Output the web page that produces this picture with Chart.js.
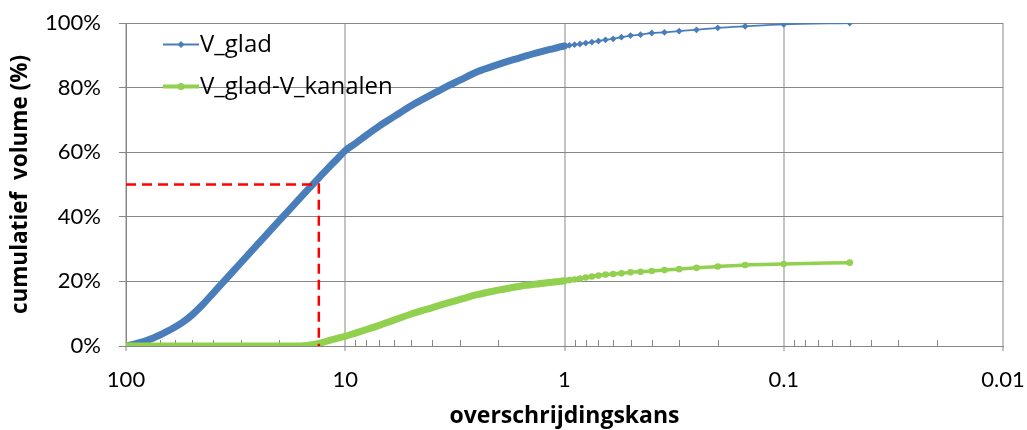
<!DOCTYPE html>
<html>
<head>
<meta charset="utf-8">
<script src="https://cdn.jsdelivr.net/npm/chart.js@4"></script>
<style>
  html, body { margin: 0; padding: 0; background: #ffffff; }
  #wrap { width: 1027px; height: 430px; position: relative; }
</style>
</head>
<body>
<div id="wrap"><canvas id="c" width="1027" height="430"></canvas></div>
<script>
// ---- data ----
const overschrijdingskans = [100, 95, 90, 85, 80, 75, 70, 65, 60, 55, 50, 45, 40, 35, 30, 25, 20, 17,
  15, 13, 12, 11, 10, 9, 8, 7, 6, 5, 4, 3.5, 3, 2.5, 2, 1.8, 1.6, 1.5, 1.4, 1.3,
  1.25, 1.2, 1.15, 1.1, 1.05, 1,
  0.95, 0.9, 0.85, 0.8, 0.75, 0.7, 0.65, 0.6, 0.55, 0.5, 0.45, 0.4, 0.35, 0.3, 0.25, 0.2, 0.15, 0.1, 0.05];
const vGlad = [0, 0.3, 0.7, 1.2, 1.8, 2.5, 3.4, 4.5, 5.8, 7.4, 9.6, 12.6, 16.4, 20.7, 25.7, 31.6, 38.8, 44.0,
  48.0, 52.5, 55.0, 57.6, 60.5, 62.7, 65.3, 68.1, 71.0, 74.4, 78.0, 80.1, 82.3, 84.9, 87.2, 88.2, 89.2, 89.8, 90.4, 91.0,
  91.3, 91.6, 91.9, 92.2, 92.6, 92.9,
  93.1, 93.3, 93.5, 93.8, 94.1, 94.4, 94.8, 95.1, 95.6, 96.1, 96.4, 96.9, 97.1, 97.5, 97.9, 98.5, 99.0, 99.6, 100];
const vGladMinKanalen = [0, 0, 0, 0, 0, 0, 0, 0, 0, 0, 0, 0, 0, 0, 0, 0, 0, 0,
  0.2, 0.9, 1.6, 2.3, 3.0, 4.0, 5.1, 6.4, 8.0, 9.9, 11.9, 13.1, 14.4, 15.9, 17.3, 17.9, 18.5, 18.8, 19.0, 19.3,
  19.45, 19.6, 19.7, 19.85, 20.0, 20.2,
  20.4, 20.6, 20.9, 21.2, 21.5, 21.8, 22.1, 22.3, 22.5, 22.8, 23.0, 23.2, 23.5, 23.8, 24.2, 24.6, 25.1, 25.4, 25.8];
const seriesNames = ['V_glad', 'V_glad-V_kanalen'];
const refKans = 13.2;     // red dashed reference
const refVolume = 50;
const xTickValues = [100, 10, 1, 0.1, 0.01];
const xTickLabels = ['100', '10', '1', '0.1', '0.01'];
const yTickStep = 20;
const xTitle = 'overschrijdingskans';
const yTitle = 'cumulatief  volume (%)';

// ---- styling ----
const BLUE = '#4a7ebb';
const GREEN = '#92d050';
const GRID_H = '#878787';
const GRID_V = '#c4c4c4';
const TICK_FONT = 'Lato, "Open Sans", sans-serif';
const TEXT_FONT = '"Open Sans", Lato, sans-serif';

const toPts = ys => overschrijdingskans.map((x, i) => ({ x: x, y: ys[i] }));

const minorTicks = {
  id: 'minorTicks',
  beforeDatasetsDraw(chart) {
    const xs = chart.scales.x, ca = chart.chartArea, ctx = chart.ctx;
    ctx.save();
    ctx.strokeStyle = GRID_H;
    ctx.lineWidth = 1;
    for (let d = 0; d < xTickValues.length - 1; d++) {
      const low = xTickValues[d + 1];
      for (let m = 2; m <= 9; m++) {
        const px = Math.round(xs.getPixelForValue(low * m)) + 0.5;
        ctx.beginPath();
        ctx.moveTo(px, ca.bottom);
        ctx.lineTo(px, ca.bottom - 6);
        ctx.stroke();
      }
    }
    ctx.restore();
  }
};

const innerLegend = {
  id: 'innerLegend',
  afterDraw(chart) {
    const ctx = chart.ctx;
    ctx.save();
    const x0 = 163, x1 = 199;
    const rows = [
      { label: seriesNames[0], y: 44.5, color: BLUE, lw: 1.8, shape: 'diamond' },
      { label: seriesNames[1], y: 86.5, color: GREEN, lw: 4, shape: 'circle' }
    ];
    rows.forEach(r => {
      ctx.strokeStyle = r.color;
      ctx.fillStyle = r.color;
      ctx.lineWidth = r.lw;
      ctx.beginPath();
      ctx.moveTo(x0, r.y);
      ctx.lineTo(x1, r.y);
      ctx.stroke();
      const cx = (x0 + x1) / 2;
      ctx.beginPath();
      if (r.shape === 'diamond') {
        ctx.moveTo(cx, r.y - 3.5); ctx.lineTo(cx + 3.5, r.y); ctx.lineTo(cx, r.y + 3.5); ctx.lineTo(cx - 3.5, r.y);
        ctx.closePath();
      } else {
        ctx.arc(cx, r.y, 3.5, 0, Math.PI * 2);
      }
      ctx.fill();
      ctx.fillStyle = '#000000';
      ctx.font = '24px ' + TEXT_FONT;
      ctx.textAlign = 'left';
      ctx.textBaseline = 'middle';
      ctx.fillText(r.label, 200, r.y + 1);
    });
    ctx.restore();
  }
};

new Chart(document.getElementById('c'), {
  type: 'line',
  data: {
    datasets: [
      {
        label: 'ref',
        data: [{ x: 100, y: refVolume }, { x: refKans, y: refVolume }, { x: refKans, y: 0 }],
        borderColor: '#ff0000',
        borderWidth: 2.5,
        borderDash: [10, 6],
        pointRadius: 0,
        fill: false,
        tension: 0
      },
      {
        label: seriesNames[1],
        data: toPts(vGladMinKanalen),
        borderColor: GREEN,
        backgroundColor: GREEN,
        pointStyle: 'circle',
        pointRadius: ctx => (ctx.raw && ctx.raw.x <= 1.3 ? 3.3 : 0),
        pointBorderWidth: 0,
        borderWidth: 3.5,
        segment: {
          borderWidth: s => (s.p0.parsed.x > 1.0 ? 7 : 3.5)
        },
        borderCapStyle: 'round',
        borderJoinStyle: 'round',
        fill: false,
        cubicInterpolationMode: 'monotone'
      },
      {
        label: seriesNames[0],
        data: toPts(vGlad),
        borderColor: BLUE,
        backgroundColor: BLUE,
        pointStyle: 'rectRot',
        pointRadius: ctx => (ctx.raw && ctx.raw.x <= 1.3 ? 3.4 : 0),
        pointBorderWidth: 0,
        borderWidth: 1.8,
        segment: {
          borderWidth: s => (s.p0.parsed.x > 1.0 ? 7 : 1.8)
        },
        borderCapStyle: 'round',
        borderJoinStyle: 'round',
        fill: false,
        cubicInterpolationMode: 'monotone'
      }
    ]
  },
  options: {
    responsive: false,
    animation: false,
    events: [],
    layout: { autoPadding: false, padding: { left: 0, right: 24, top: 23, bottom: 0 } },
    plugins: { legend: { display: false }, tooltip: { enabled: false } },
    scales: {
      x: {
        type: 'logarithmic',
        reverse: true,
        min: 0.01,
        max: 100,
        afterBuildTicks: s => { s.ticks = xTickValues.map(v => ({ value: v, major: true })); },
        afterFit: s => { s.height = 84; s.paddingLeft = 0; s.paddingRight = 0; },
        ticks: {
          autoSkip: false,
          maxRotation: 0,
          padding: 16,
          color: '#000000',
          font: { family: TICK_FONT, size: 22 },
          callback: (v, i) => xTickLabels[i]
        },
        grid: { color: GRID_V, lineWidth: 2, tickLength: 5, tickColor: GRID_V },
        border: { color: GRID_H, width: 1 },
        title: {
          display: true,
          text: xTitle,
          color: '#000000',
          font: { family: TEXT_FONT, size: 23, weight: 'bold' },
          padding: { top: 0, bottom: 0 }
        }
      },
      y: {
        min: 0,
        max: 100,
        afterFit: s => { s.width = 126; s.paddingTop = 0; s.paddingBottom = 0; },
        ticks: {
          stepSize: yTickStep,
          padding: 18,
          color: '#000000',
          font: { family: TICK_FONT, size: 22 },
          callback: v => v + '%'
        },
        grid: { color: GRID_H, lineWidth: 1, tickLength: 7 },
        border: { color: GRID_H, width: 1 },
        title: {
          display: true,
          text: yTitle,
          color: '#000000',
          font: { family: TEXT_FONT, size: 22.5, weight: 'bold' },
          padding: { top: 7, bottom: 0 }
        }
      }
    }
  },
  plugins: [minorTicks, innerLegend]
});
</script>
</body>
</html>
